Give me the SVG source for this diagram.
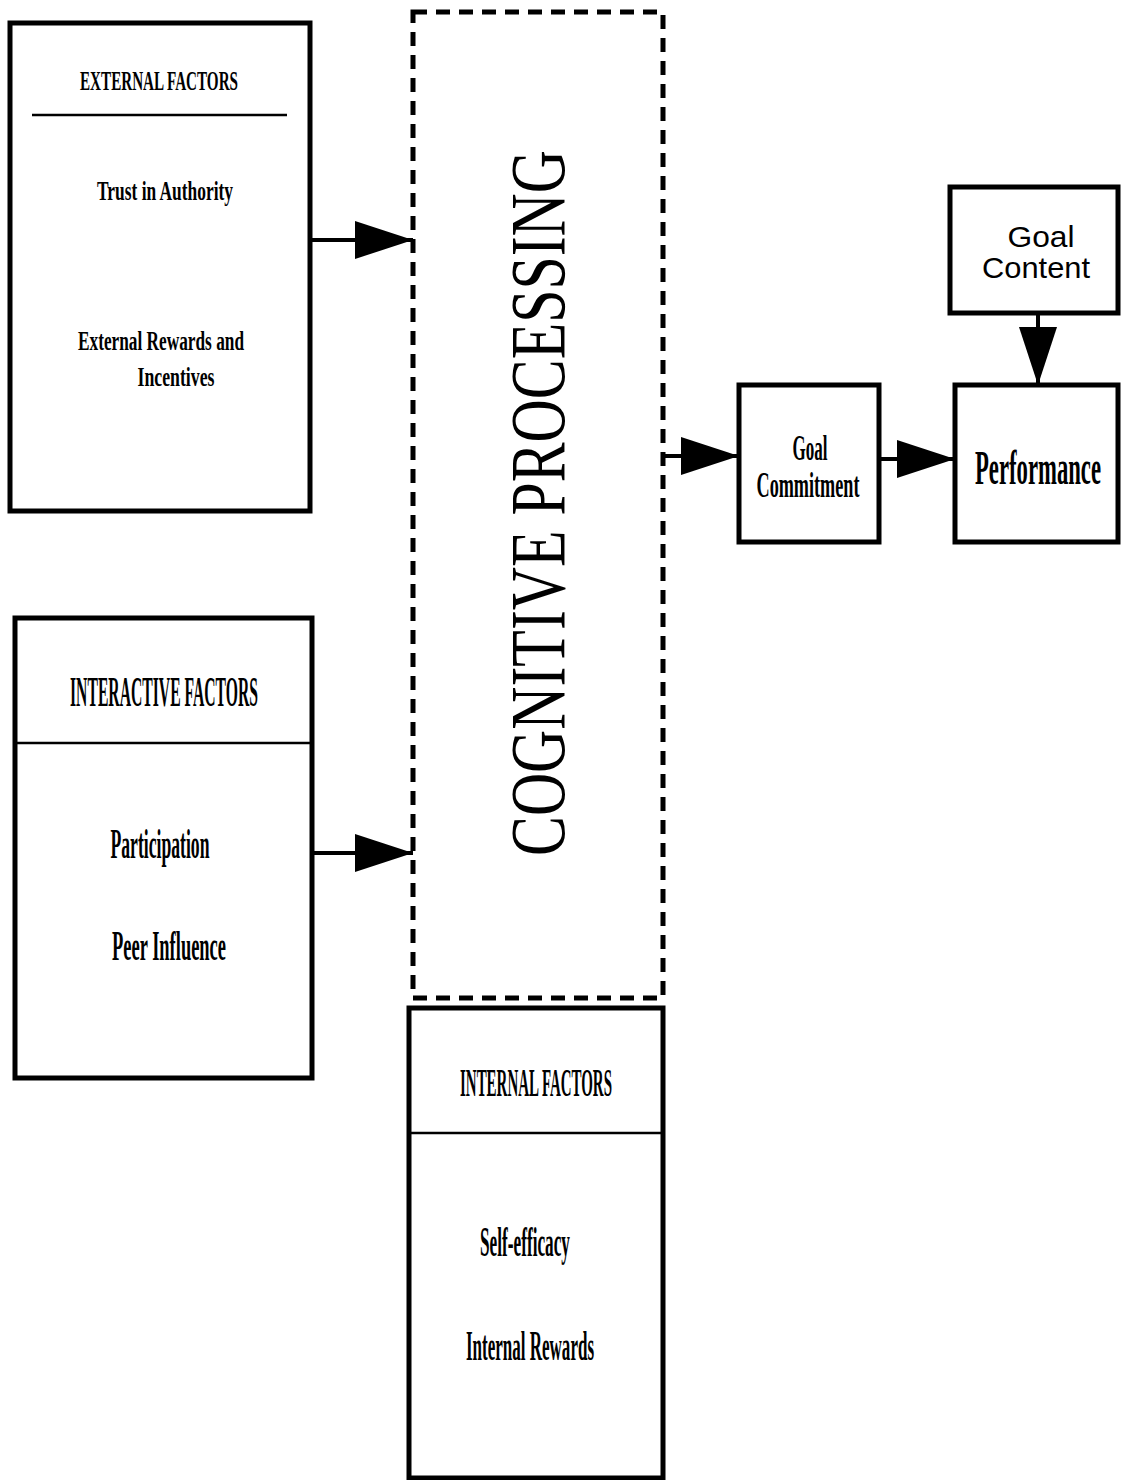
<svg xmlns="http://www.w3.org/2000/svg" width="1124" height="1480" viewBox="0 0 1124 1480">
<style>
.box{fill:#fff;stroke:#000;stroke-width:5}
.div{stroke:#000;stroke-width:2.5}
.dash{fill:none;stroke:#000;stroke-width:5;stroke-dasharray:14 9}
.t{font-family:"Liberation Serif","Times New Roman",serif;fill:#000;text-anchor:middle;font-weight:bold}
.cp{font-family:"Liberation Serif","Times New Roman",serif;fill:#000;text-anchor:middle}
.s{font-family:"Liberation Sans",Arial,sans-serif;fill:#000;text-anchor:middle}
.c{stroke:#000;stroke-width:4;fill:none;marker-end:url(#ah)}
</style>
<defs>
<marker id="ah" markerUnits="userSpaceOnUse" markerWidth="60" markerHeight="40" refX="58" refY="19" orient="auto">
<path d="M0,0 L58,19 L0,38 z" fill="#000"/>
</marker>
</defs>
<rect width="1124" height="1480" fill="#fff"/>

<g id="cognitive">
<rect class="dash" x="413" y="12" width="250" height="986"/>
<text class="cp" transform="translate(564,503) rotate(-90)" font-size="78" textLength="706" lengthAdjust="spacingAndGlyphs">COGNITIVE PROCESSING</text>
</g>

<g id="external">
<rect class="box" x="10" y="23" width="300" height="488"/>
<line class="div" x1="32" y1="115" x2="287" y2="115"/>
<text class="t" x="159" y="90" font-size="28" textLength="158" lengthAdjust="spacingAndGlyphs">EXTERNAL FACTORS</text>
<text class="t" x="165" y="200" font-size="28" textLength="136" lengthAdjust="spacingAndGlyphs">Trust in Authority</text>
<text class="t" x="161" y="350" font-size="28" textLength="166" lengthAdjust="spacingAndGlyphs">External Rewards and</text>
<text class="t" x="176" y="386" font-size="28" textLength="77" lengthAdjust="spacingAndGlyphs">Incentives</text>
</g>

<g id="interactive">
<rect class="box" x="15" y="618" width="297" height="460"/>
<line class="div" x1="15" y1="743" x2="312" y2="743"/>
<text class="t" x="164" y="706" font-size="42" textLength="188" lengthAdjust="spacingAndGlyphs">INTERACTIVE FACTORS</text>
<text class="t" x="160" y="858" font-size="42" textLength="99" lengthAdjust="spacingAndGlyphs">Participation</text>
<text class="t" x="169" y="960" font-size="42" textLength="114" lengthAdjust="spacingAndGlyphs">Peer Influence</text>
</g>

<g id="internal">
<rect class="box" x="409" y="1008" width="254" height="470"/>
<line class="div" x1="409" y1="1133" x2="663" y2="1133"/>
<text class="t" x="536" y="1096" font-size="40" textLength="152" lengthAdjust="spacingAndGlyphs">INTERNAL FACTORS</text>
<text class="t" x="525" y="1256" font-size="42" textLength="90" lengthAdjust="spacingAndGlyphs">Self-efficacy</text>
<text class="t" x="530" y="1360" font-size="42" textLength="128" lengthAdjust="spacingAndGlyphs">Internal Rewards</text>
</g>

<g id="goal-commitment">
<rect class="box" x="739" y="385" width="140" height="157"/>
<text class="t" x="810" y="460" font-size="35" textLength="35" lengthAdjust="spacingAndGlyphs">Goal</text>
<text class="t" x="808" y="497" font-size="35" textLength="103" lengthAdjust="spacingAndGlyphs">Commitment</text>
</g>

<g id="performance">
<rect class="box" x="955" y="385" width="163" height="157"/>
<text class="t" x="1038" y="484" font-size="48" textLength="126" lengthAdjust="spacingAndGlyphs">Performance</text>
</g>

<g id="goal-content">
<rect class="box" x="950" y="187" width="168" height="126"/>
<text class="s" x="1041" y="247" font-size="30" textLength="67" lengthAdjust="spacingAndGlyphs">Goal</text>
<text class="s" x="1036" y="278" font-size="30" textLength="108" lengthAdjust="spacingAndGlyphs">Content</text>
</g>

<g id="connectors">
<line class="c" x1="310" y1="240" x2="413" y2="240"/>
<line class="c" x1="312" y1="853" x2="413" y2="853"/>
<line class="c" x1="663" y1="456" x2="739" y2="456"/>
<line class="c" x1="879" y1="459" x2="955" y2="459"/>
<line class="c" x1="1038" y1="313" x2="1038" y2="385"/>
</g>
</svg>
